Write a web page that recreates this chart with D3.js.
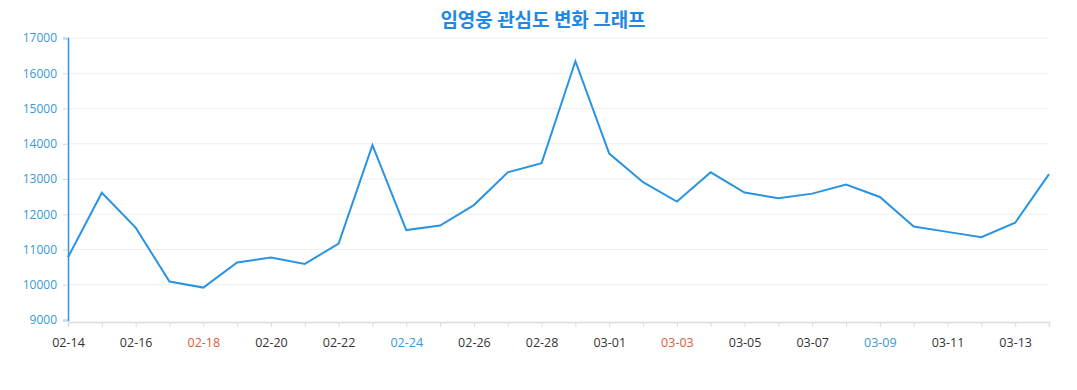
<!DOCTYPE html>
<html>
<head>
<meta charset="utf-8">
<script src="https://cdn.jsdelivr.net/npm/d3@7"></script>
<style>
  body { margin: 0; background: #fff; }
  svg { display: block; font-family: "Open Sans", "Noto Sans", sans-serif; }
</style>
</head>
<body>
<svg id="chart"></svg>
<script>
const dates = [
  "02-14", "02-15", "02-16", "02-17", "02-18", "02-19", "02-20", "02-21",
  "02-22", "02-23", "02-24", "02-25", "02-26", "02-27", "02-28", "02-29",
  "03-01", "03-02", "03-03", "03-04", "03-05", "03-06", "03-07", "03-08",
  "03-09", "03-10", "03-11", "03-12", "03-13", "03-14"
];
const interest = [
  10780, 12610, 11620, 10090, 9920, 10630, 10770, 10590,
  11170, 13960, 11550, 11680, 12260, 13190, 13450, 16340,
  13720, 12910, 12360, 13190, 12615, 12455, 12585, 12840,
  12490, 11650, 11500, 11350, 11760, 13140
];
const yTicks = [9000, 10000, 11000, 12000, 13000, 14000, 15000, 16000, 17000];
const redDates = ["02-18", "03-03"];
const blueDates = ["02-24", "03-09"];

const width = 1077, height = 390;
const margin = {top: 38, right: 28, bottom: 70, left: 68};

const svg = d3.select("#chart").attr("width", width).attr("height", height);

const x = d3.scalePoint()
  .domain(dates)
  .range([margin.left, width - margin.right]);

const y = d3.scaleLinear()
  .domain([9000, 17000])
  .range([height - margin.bottom, margin.top]);

// title
svg.append("text")
  .attr("x", 543).attr("y", 27)
  .attr("text-anchor", "middle")
  .style("font-family", "'Noto Sans CJK KR', sans-serif")
  .style("font-size", "19px")
  .style("font-weight", "bold")
  .style("fill", "#1e88e5")
  .text("임영웅 관심도 변화 그래프");

// grid
svg.append("g")
  .selectAll("line")
  .data(yTicks.slice(1))
  .join("line")
  .attr("x1", margin.left).attr("x2", width - margin.right)
  .attr("y1", d => y(d)).attr("y2", d => y(d))
  .attr("stroke", "#eeeeee")
  .attr("stroke-width", 1);

// x axis
const xAxis = svg.append("g")
  .attr("transform", `translate(0,${height - margin.bottom + 2})`)
  .call(d3.axisBottom(x)
    .tickSize(5)
    .tickPadding(11)
    .tickFormat((d, i) => i % 2 === 0 ? d : ""));
xAxis.attr("font-family", null);
xAxis.select(".domain").attr("stroke", "#dcdcdc").attr("stroke-width", 1.5);
xAxis.selectAll(".tick line").attr("stroke", "#dcdcdc");
xAxis.selectAll(".tick text")
  .style("font-size", "12.5px")
  .style("fill", d => redDates.includes(d) ? "#e05a38" : blueDates.includes(d) ? "#3498db" : "#333");

// y axis
const yAxis = svg.append("g")
  .attr("transform", `translate(${margin.left},0)`)
  .call(d3.axisLeft(y).tickValues(yTicks).tickSize(5).tickPadding(6).tickFormat(d3.format("d")));
yAxis.attr("font-family", null);
yAxis.select(".domain").attr("stroke", "#2f96e0").attr("stroke-width", 1.5);
yAxis.selectAll(".tick line").attr("stroke", "#c8d8e6");
yAxis.selectAll(".tick text")
  .style("font-size", "12px")
  .style("fill", "#3a98d8");

// line
const line = d3.line()
  .x((d, i) => x(dates[i]))
  .y(d => y(d));

svg.append("path")
  .datum(interest)
  .attr("d", line)
  .attr("fill", "none")
  .attr("stroke", "#2b94e2")
  .attr("stroke-width", 2)
  .attr("stroke-linejoin", "miter");
</script>
</body>
</html>
